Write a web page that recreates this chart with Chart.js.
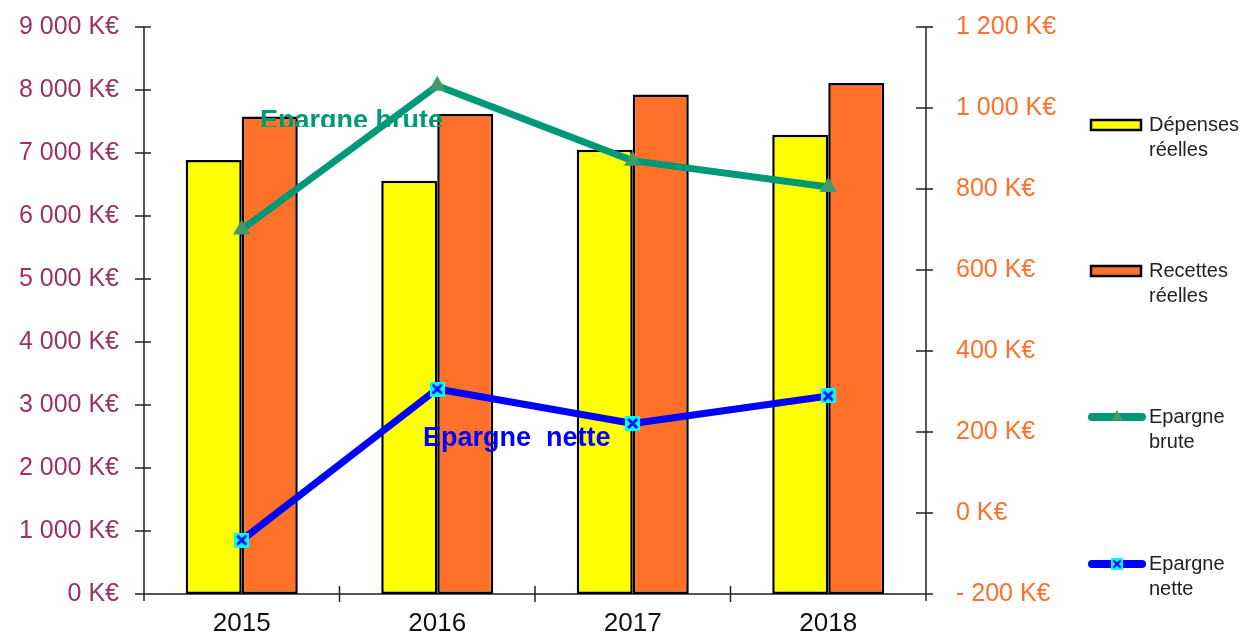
<!DOCTYPE html>
<html><head><meta charset="utf-8">
<script src="https://cdn.jsdelivr.net/npm/chart.js@4"></script>
<style>html,body{margin:0;padding:0;background:#fff;overflow:hidden}#wrap{position:relative;width:1247px;height:634px}</style>
</head><body><div id="wrap"><canvas id="c" width="1247" height="634"></canvas></div>
<script>
const years = ['2015', '2016', '2017', '2018'];
const depenses = [6890, 6560, 7050, 7290];
const recettes = [7580, 7620, 7930, 8110];
const epargneBrute = [700, 1055, 870, 805];
const epargneNette = [-67, 306, 221, 289];
const leftTickLabels = ['0 K€', '1 000 K€', '2 000 K€', '3 000 K€', '4 000 K€', '5 000 K€', '6 000 K€', '7 000 K€', '8 000 K€', '9 000 K€'];
const rightTickLabels = ['- 200 K€', '0 K€', '200 K€', '400 K€', '600 K€', '800 K€', '1 000 K€', '1 200 K€'];
const seriesNames = ['Dépenses réelles', 'Recettes réelles', 'Epargne brute', 'Epargne nette'];
const inlineLabels = ['Epargne brute', 'Epargne  nette'];

const FONT = '"Liberation Sans", Arial, sans-serif';

function makeXMarker() {
  const c = document.createElement('canvas');
  c.width = 15; c.height = 15;
  const g = c.getContext('2d');
  g.fillStyle = '#00FFFF';
  g.fillRect(0, 0, 15, 15);
  g.strokeStyle = '#0000FF';
  g.lineWidth = 2.6;
  g.beginPath();
  g.moveTo(3, 3); g.lineTo(12, 12);
  g.moveTo(12, 3); g.lineTo(3, 12);
  g.stroke();
  return c;
}
const xMarker = makeXMarker();

let labelsDrawn = false;
const customPlugin = {
  id: 'custom',
  beforeDraw() { labelsDrawn = false; },
  beforeDatasetsDraw(chart) {
    const ctx = chart.ctx;
    const a = chart.chartArea;
    const y = chart.scales.y, y1 = chart.scales.y1, x = chart.scales.x;
    ctx.save();
    ctx.strokeStyle = '#222';
    ctx.lineWidth = 1.5;
    ctx.beginPath();
    ctx.moveTo(a.left, a.top); ctx.lineTo(a.left, a.bottom + 7);
    y.ticks.forEach(t => { const p = y.getPixelForValue(t.value); ctx.moveTo(a.left - 9, p); ctx.lineTo(a.left + 7, p); });
    ctx.moveTo(a.right, a.top); ctx.lineTo(a.right, a.bottom + 7);
    y1.ticks.forEach(t => { const p = y1.getPixelForValue(t.value); ctx.moveTo(a.right - 10, p); ctx.lineTo(a.right + 7, p); });
    ctx.moveTo(a.left - 9, a.bottom); ctx.lineTo(a.right, a.bottom);
    for (let i = 1; i < years.length; i++) {
      const p = (x.getPixelForValue(i - 1) + x.getPixelForValue(i)) / 2;
      ctx.moveTo(p, a.bottom - 8); ctx.lineTo(p, a.bottom + 8);
    }
    ctx.stroke();
    ctx.restore();
  },
  beforeDatasetDraw(chart, args) {
    if (labelsDrawn || args.meta.type !== 'line') return;
    labelsDrawn = true;
    const ctx = chart.ctx;
    ctx.save();
    ctx.font = 'bold 27px ' + FONT;
    ctx.textBaseline = 'alphabetic';
    ctx.textAlign = 'left';
    ctx.save();
    ctx.beginPath();
    ctx.rect(200, 90, 300, 37);
    ctx.clip();
    ctx.fillStyle = '#009977';
    ctx.fillText(inlineLabels[0], 260, 129);
    ctx.restore();
    ctx.fillStyle = '#0000FF';
    ctx.fillText(inlineLabels[1], 423, 446);
    ctx.restore();
  },
  afterDraw(chart) {
    const ctx = chart.ctx;
    const ds = chart.data.datasets;
    const ys = [125, 271, 417, 564];
    ctx.save();
    ctx.font = '20px ' + FONT;
    ctx.textBaseline = 'middle';
    ctx.textAlign = 'left';
    ds.forEach((d, i) => {
      const cy = ys[i];
      if (d.type === 'bar') {
        ctx.fillStyle = d.backgroundColor;
        ctx.fillRect(1091, cy - 5, 50, 10);
        ctx.strokeStyle = '#000';
        ctx.lineWidth = 2.5;
        ctx.strokeRect(1091, cy - 5, 50, 10);
      } else {
        ctx.strokeStyle = d.borderColor;
        ctx.lineWidth = 8;
        ctx.lineCap = 'round';
        ctx.beginPath();
        ctx.moveTo(1092, cy); ctx.lineTo(1142, cy);
        ctx.stroke();
        if (d.pointStyle === 'triangle') {
          ctx.fillStyle = d.pointBackgroundColor;
          ctx.beginPath();
          const r = 7;
          ctx.moveTo(1117, cy - r);
          ctx.lineTo(1117 + r * 0.866, cy + r * 0.5);
          ctx.lineTo(1117 - r * 0.866, cy + r * 0.5);
          ctx.closePath();
          ctx.fill();
        } else {
          ctx.drawImage(xMarker, 1117 - 6, cy - 6, 12, 12);
        }
      }
      const parts = d.label.split(' ');
      ctx.fillStyle = '#222';
      ctx.fillText(parts[0], 1149, cy);
      ctx.fillText(parts.slice(1).join(' '), 1149, cy + 25);
    });
    ctx.restore();
  }
};

function noPad(s) { s.paddingTop = 0; s.paddingBottom = 0; }

new Chart(document.getElementById('c'), {
  data: {
    labels: years,
    datasets: [
      { type: 'bar', label: seriesNames[0], data: depenses, backgroundColor: '#FFFF00', borderColor: '#000', borderWidth: 2.5, borderSkipped: false, yAxisID: 'y', order: 2, categoryPercentage: 0.573, barPercentage: 1 },
      { type: 'bar', label: seriesNames[1], data: recettes, backgroundColor: '#FF7128', borderColor: '#000', borderWidth: 2.5, borderSkipped: false, yAxisID: 'y', order: 2, categoryPercentage: 0.573, barPercentage: 1 },
      { type: 'line', label: seriesNames[2], data: epargneBrute, borderColor: '#009977', borderWidth: 7, borderJoinStyle: 'round', borderCapStyle: 'round', tension: 0, pointStyle: 'triangle', pointRadius: 10, pointBackgroundColor: '#3D9C6A', pointBorderColor: '#3D9C6A', pointBorderWidth: 0, yAxisID: 'y1', order: 0 },
      { type: 'line', label: seriesNames[3], data: epargneNette, borderColor: '#0000FF', borderWidth: 7, borderJoinStyle: 'round', borderCapStyle: 'round', tension: 0, pointStyle: xMarker, pointRadius: 8, yAxisID: 'y1', order: 0 }
    ]
  },
  options: {
    responsive: false,
    animation: false,
    devicePixelRatio: 1,
    layout: { padding: { top: 27, right: 0, bottom: 0, left: 0 } },
    plugins: { legend: { display: false }, tooltip: { enabled: false } },
    scales: {
      x: {
        offset: true,
        grid: { display: false, drawTicks: false },
        border: { display: false },
        ticks: { color: '#111', font: { family: FONT, size: 26 }, padding: 14 },
        afterFit(s) { s.height = 40; s.paddingLeft = 0; s.paddingRight = 0; }
      },
      y: {
        position: 'left', min: 0, max: 9000,
        grid: { display: false, drawTicks: false },
        border: { display: false },
        ticks: { stepSize: 1000, color: '#993366', font: { family: FONT, size: 25 }, padding: 25,
          callback: (v, i) => leftTickLabels[i] },
        afterFit(s) { s.width = 144; noPad(s); }
      },
      y1: {
        position: 'right', min: -200, max: 1200,
        grid: { display: false, drawTicks: false },
        border: { display: false },
        ticks: { stepSize: 200, color: '#FF7028', font: { family: FONT, size: 25 }, padding: 30,
          callback: (v, i) => rightTickLabels[i] },
        afterFit(s) { s.width = 321; noPad(s); }
      }
    }
  },
  plugins: [customPlugin]
});
</script>
</body></html>
